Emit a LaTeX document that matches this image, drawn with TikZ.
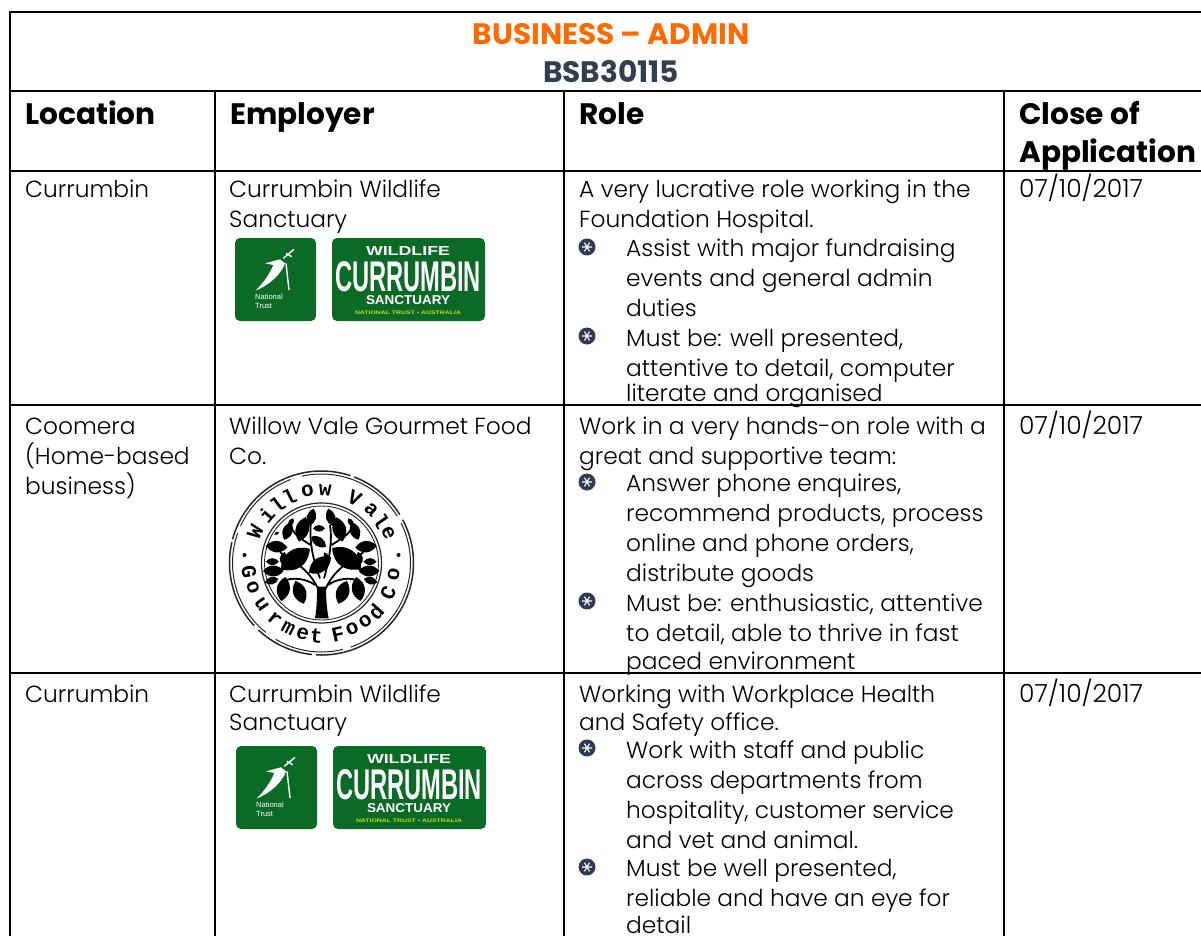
\documentclass[tikz,border=0pt]{standalone}
\usepackage{graphicx}
\usepackage{fontspec}
\setmainfont{Poppins}[UprightFont=* Light,BoldFont=* Bold]
\newfontfamily\lgfont{Liberation Sans}
\newfontfamily\wvfont{Liberation Mono}
\definecolor{orangeT}{HTML}{FF6A00}
\definecolor{navyT}{HTML}{323F4F}
\definecolor{greenL}{HTML}{0C6A27}
\definecolor{bulletC}{HTML}{2F3B55}
\tikzset{
 rule/.style={line width=2.4pt,black},
 body/.style={anchor=base west,inner sep=0pt,font=\fontsize{23.3}{25}\selectfont,text=black},
 datetxt/.style={body,font=\fontsize{25}{25}\selectfont},
 head/.style={anchor=base west,inner sep=0pt,font=\fontsize{29.6}{32}\selectfont\bfseries},
 title/.style={anchor=base,inner sep=0pt,font=\fontsize{29.6}{32}\selectfont\bfseries},
 logo/.style={fill=greenL,rounded corners=5pt,draw=none},
 logotxt/.style={inner sep=0pt,text=white},
 bul/.style={circle,fill=bulletC,minimum size=17pt,inner sep=0pt},
 wv/.style={inner sep=0pt,font=\wvfont\bfseries\fontsize{21}{21}\selectfont},
 leaf/.style={fill=black},
}
\newcommand{\fitted}[3]{\resizebox{#1pt}{#2pt}{\lgfont\bfseries #3}}
\newcommand{\bulletat}[2]{%
  \node[bul] (b#1#2) at (#1,#2) {};
  \draw[white,line width=1.1pt] (#1-5,#2) -- (#1+5,#2) (#1-2.5,#2-4.3) -- (#1+2.5,#2+4.3) (#1-2.5,#2+4.3) -- (#1+2.5,#2-4.3);
}
\begin{document}
\begin{tikzpicture}[x=1pt,y=-1pt]
\useasboundingbox (0,0) rectangle (1201,936);
\fill[white] (0,0) rectangle (1201,936);
% rules
\coordinate (tl) at (10,12); \coordinate (tr) at (1201,12);
\coordinate (bl) at (10,936);
\draw[rule] (tr) -- (tl) -- (bl);
\foreach \y in {91,171,405,673} \draw[rule] (10,\y) -- (1201,\y);
\foreach \x in {215,564,1004} \draw[rule] (\x,91) -- (\x,936);
% titles
\node[title,text=orangeT] (t1) at (611,45) {BUSINESS – ADMIN};
\node[title,text=navyT] (t2) at (611,83) {BSB30115};
% heads
\node[head] (h1) at (25,125) {Location};
\node[head] (h2) at (230,125) {Employer};
\node[head] (h3) at (579,125) {Role};
\node[head] (h4) at (1019,125) {Close of};
\node[head] (h5) at (1019,163) {Application};
% col 1
\node[body] at (25,197) {Currumbin};
\node[body] at (25,434) {Coomera};
\node[body] at (25,464) {(Home-based};
\node[body] at (25,494) {business)};
\node[body] at (25,702) {Currumbin};
% col 2
\node[body] at (229,197) {Currumbin Wildlife};
\node[body] at (229,227) {Sanctuary};
\node[body] at (229,434) {Willow Vale Gourmet Food};
\node[body] at (229,464) {Co.};
\node[body] at (229,702) {Currumbin Wildlife};
\node[body] at (229,730) {Sanctuary};
% logos
\foreach \dx/\dy in {0/0,1/508}{
 \begin{scope}[shift={(\dx,\dy)}]
  \fill[logo] (235,238) rectangle (316,321);
  \fill[logo] (332,238) rectangle (485,321);
  \begin{scope}[shift={(220,230)},scale=1/3]
   \fill[white] (135,100) -- (180,88) -- (195,100) .. controls (185,130) and (150,165) .. (106,182) .. controls (130,160) and (150,130) .. (160,105) -- cycle;
   \draw[white,line width=1.4pt] (190,85) -- (222,58) (198,70) -- (215,80) (198,100) -- (207,180);
  \end{scope}
  \node[logotxt,anchor=west,font=\lgfont\fontsize{7.5}{8}\selectfont] at (255,297) {National};
  \node[logotxt,anchor=west,font=\lgfont\fontsize{7.5}{8}\selectfont] at (255,306) {Trust};
  \node[logotxt] at (408,251) {\fitted{84}{9}{WILDLIFE}};
  \node[logotxt] at (408,277) {\fitted{146}{30}{CURRUMBIN}};
  \node[logotxt] at (408,300.5) {\fitted{84}{9}{SANCTUARY}};
  \node[logotxt,text=yellow!75!green] at (408,313) {\fitted{106}{3.5}{NATIONAL TRUST • AUSTRALIA}};
 \end{scope}
}
% willow vale logo
\begin{scope}[shift={(321.5,563)}]
 \draw[line width=1.5pt,black!85,dash pattern=on 150pt off 4pt on 60pt off 6pt on 90pt off 3pt] (0,0) circle (92);
 \draw[line width=1pt,black!85,dash pattern=on 110pt off 8pt on 70pt off 12pt] (0,0) circle (89);
 \draw[line width=1.2pt,black!85] (0,0) circle (60);
 \draw[line width=.9pt,black!85] (0,0) circle (57);
 \foreach \a/\c in {-155/W,-139/i,-127/l,-116/l,-101/o,-87/w,-63/V,-47/a,-35/l,-24/e}{
  \node[wv,rotate=-\a-90] at (\a:73) {\c};
 }
 \foreach \a/\c in {173/G,160/o,145/u,130/r,117/m,105/e,94/t,77/F,65/o,53/o,42/d,24/C,9/o}{
  \node[wv,rotate=90-\a] at (\a:73) {\c};
 }
 \fill[black] (-77,-8) circle (2) (77,-8) circle (2);
\end{scope}
\begin{scope}[shift={(220,465)},scale=1/3]
 \fill[black] (285,460) .. controls (292,420) and (290,390) .. (292,365) -- (318,365) .. controls (318,400) and (320,430) .. (326,460) -- cycle;
 \draw[line width=1.8pt,black]
   (296,375) .. controls (270,320) and (240,300) .. (180,262)
   (315,375) .. controls (340,320) and (370,300) .. (430,262)
   (300,340) .. controls (270,260) and (270,210) .. (272,180)
   (312,340) .. controls (335,260) and (335,210) .. (330,180)
   (272,240) .. controls (240,220) and (225,210) .. (215,190)
   (335,240) .. controls (365,220) and (385,210) .. (395,190)
   (235,300) -- (165,320) (375,300) -- (445,320)
   (285,360) .. controls (260,340) and (210,335) .. (190,350)
   (325,360) .. controls (350,340) and (400,335) .. (415,350);
 \foreach \lx/\ly/\la/\ls in {
   274/157/75/.95, 332/157/105/.95, 247/193/75/1.35, 203/198/70/1, 358/193/105/1.35, 405/198/110/1,
   213/172/60/.5, 392/172/120/.5,
   296/230/-35/.95, 297/190/0/.65, 170/245/-5/1.15, 438/245/5/1.15, 226/282/35/1.9, 380/280/145/1.9,
   300/300/35/1.45, 157/290/0/.7, 160/318/0/1.1, 190/280/80/.7, 418/280/100/.7, 450/290/0/.7, 447/318/0/1.1,
   155/347/15/.75, 452/347/-15/.75, 190/372/80/1.3, 239/382/110/1.3, 368/382/70/1.3, 415/372/100/1.3,
   318/272/-60/.4, 170/205/30/.3}{
  \begin{scope}[shift={(\lx,\ly)},rotate=\la,scale=\ls]
   \fill[leaf] (-28,0) .. controls (-12,-20) and (12,-20) .. (28,0) .. controls (12,20) and (-12,20) .. (-28,0);
  \end{scope}
 }
\end{scope}
% col 3
\node[body] at (579,197) {A very lucrative role working in the};
\node[body] at (579,227) {Foundation Hospital.};
\bulletat{587}{247}
\node[body] at (626,256) {Assist with major fundraising};
\node[body] at (626,286) {events and general admin};
\node[body] at (626,316) {duties};
\bulletat{587}{336}
\node[body] at (626,346) {Must be: well presented,};
\node[body] at (626,376) {attentive to detail, computer};
\node[body] at (626,401) {literate and organised};
\node[body] at (579,434) {Work in a very hands-on role with a};
\node[body] at (579,464) {great and supportive team:};
\bulletat{587}{482}
\node[body] at (626,491) {Answer phone enquires,};
\node[body] at (626,521) {recommend products, process};
\node[body] at (626,551) {online and phone orders,};
\node[body] at (626,581) {distribute goods};
\bulletat{587}{601}
\node[body] at (626,611) {Must be: enthusiastic, attentive};
\node[body] at (626,641) {to detail, able to thrive in fast};
\node[body] at (626,669) {paced environment};
\node[body] at (579,702) {Working with Workplace Health};
\node[body] at (579,730) {and Safety office.};
\bulletat{587}{748}
\node[body] at (626,758) {Work with staff and public};
\node[body] at (626,788) {across departments from};
\node[body] at (626,818) {hospitality, customer service};
\node[body] at (626,848) {and vet and animal.};
\bulletat{587}{867}
\node[body] at (626,876) {Must be well presented,};
\node[body] at (626,906) {reliable and have an eye for};
\node[body] at (626,933) {detail};
% col 4
\node[datetxt] at (1019,197) {07/10/2017};
\node[datetxt] at (1019,434) {07/10/2017};
\node[datetxt] at (1019,702) {07/10/2017};
\end{tikzpicture}
\end{document}
